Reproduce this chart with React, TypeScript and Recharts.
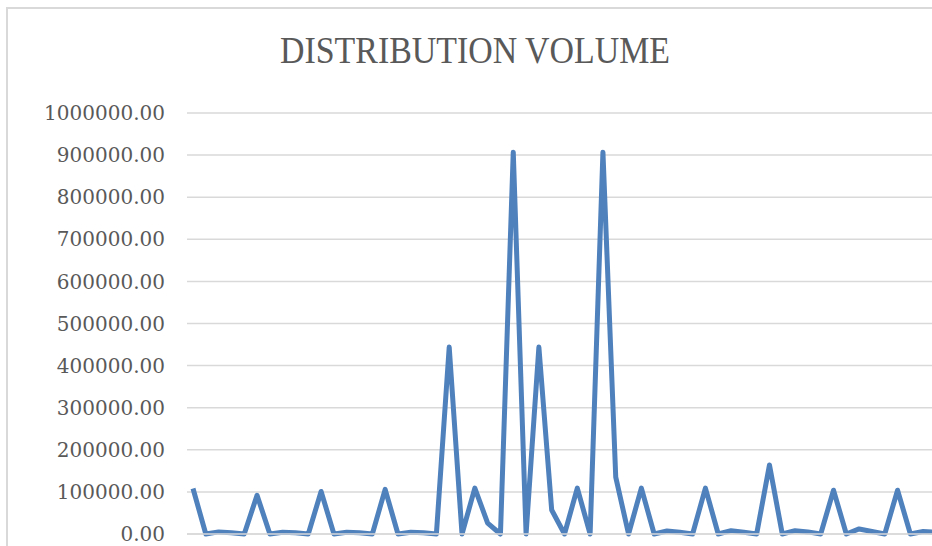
import React from "react";
import { LineChart, Line, XAxis, YAxis, CartesianGrid } from "recharts";

// distribution volume per period
const volumes = [
  108000, 0, 5000, 3000, 0, 92000, 0, 4000, 3000, 0,
  101000, 0, 4000, 3000, 0, 106000, 0, 4000, 3000, 0,
  444000, 0, 109000, 26000, 0, 907000, 0, 444000, 57000, 0,
  109000, 0, 907000, 135000, 0, 109000, 0, 7000, 4000, 0,
  109000, 0, 8000, 4000, 0, 164000, 0, 8000, 5000, 0,
  104000, 0, 12000, 6000, 0, 104000, 0, 6000, 4000,
];
const periods = volumes.map((_, i) => String(i + 1));
const yTicks = [0, 100000, 200000, 300000, 400000, 500000, 600000, 700000, 800000, 900000, 1000000];
const title = "DISTRIBUTION VOLUME";

const data = periods.map((p, i) => ({ period: p, volume: volumes[i] }));

const grid = "#d9d9d9";
const textColor = "#595959";

export default function App() {
  return (
    <div style={{ position: "relative", width: 932, height: 546, overflow: "hidden", background: "#fff" }}>
      <style>{"body{margin:0}"}</style>
      <div
        style={{
          position: "absolute",
          left: 6,
          top: 7,
          width: 1000,
          height: 1000,
          border: `2px solid ${grid}`,
        }}
      />
      <svg style={{ position: "absolute", left: 0, top: 0 }} width={932} height={100}>
        <text
          x={475}
          y={63}
          textAnchor="middle"
          textLength={390}
          lengthAdjust="spacingAndGlyphs"
          fontFamily="'Liberation Serif', serif"
          fontSize={37}
          fill={textColor}
        >
          {title}
        </text>
      </svg>
      <div style={{ position: "absolute", left: 0, top: 0 }}>
        <LineChart
          width={1000}
          height={600}
          data={data}
          margin={{ top: 113, right: 58, bottom: 36, left: 0 }}
        >
          <CartesianGrid horizontal vertical={false} stroke={grid} strokeWidth={1.5} />
          <XAxis
            dataKey="period"
            height={30}
            tick={false}
            tickLine={false}
            axisLine={{ stroke: grid, strokeWidth: 1.5 }}
            padding={{ left: 6, right: 6 }}
          />
          <YAxis
            width={187}
            domain={[0, 1000000]}
            ticks={yTicks}
            tickFormatter={(v: number) => v.toFixed(2)}
            axisLine={false}
            tickLine={false}
            tickSize={0}
            tickMargin={22}
            tick={{ fontSize: 20, fill: textColor, fontFamily: "'DejaVu Serif', serif" }}
          />
          <Line
            type="linear"
            dataKey="volume"
            stroke="#4f81bd"
            strokeWidth={5}
            strokeLinejoin="round"
            dot={false}
            isAnimationActive={false}
          />
        </LineChart>
      </div>
    </div>
  );
}
